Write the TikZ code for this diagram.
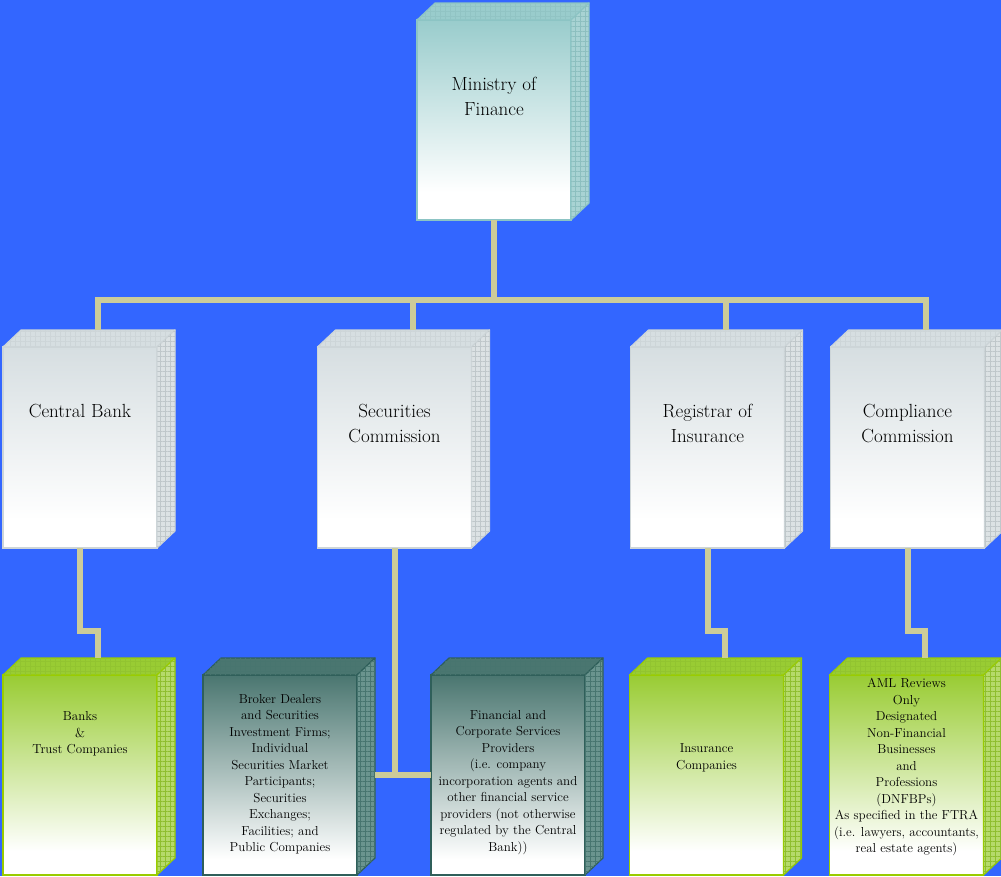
\documentclass[tikz,border=0pt]{standalone}
\usetikzlibrary{calc,patterns.meta}
\definecolor{bgblue}{HTML}{3366FF}
\definecolor{connc}{HTML}{CCCC99}
\definecolor{tealtop}{HTML}{99CCCC}
\definecolor{tealedge}{HTML}{8CC4C4}
\definecolor{tealside}{HTML}{A8D3D3}
\definecolor{tealpat}{HTML}{8CBFBF}
\definecolor{graytop}{HTML}{D6DEE1}
\definecolor{grayedge}{HTML}{CDD5D8}
\definecolor{grayside}{HTML}{DCE2E4}
\definecolor{graypat}{HTML}{BFC7CA}
\definecolor{greentop}{HTML}{99CC33}
\definecolor{greenedge}{HTML}{99CC00}
\definecolor{greenside}{HTML}{B5DA6A}
\definecolor{greenpat}{HTML}{8EBE2E}
\definecolor{darktop}{HTML}{4A7670}
\definecolor{darkedge}{HTML}{2F5F5A}
\definecolor{darkside}{HTML}{6A948E}
\definecolor{darkpat}{HTML}{47756F}
\pgfdeclareverticalshading{tealshade}{100bp}{color(0bp)=(white); color(32bp)=(white); color(75bp)=(tealtop); color(100bp)=(tealtop)}
\pgfdeclareverticalshading{grayshade}{100bp}{color(0bp)=(white); color(32bp)=(white); color(75bp)=(graytop); color(100bp)=(graytop)}
\pgfdeclareverticalshading{greenshade}{100bp}{color(0bp)=(white); color(31bp)=(white); color(75bp)=(greentop); color(100bp)=(greentop)}
\pgfdeclareverticalshading{darkshade}{100bp}{color(0bp)=(white); color(29bp)=(white); color(75bp)=(darktop); color(100bp)=(darktop)}
\newcommand\mkcube[5]{%
  \node[front,#3] (#1) at #2 {};
  \filldraw[face,#4] (#1.north west) -- ++(18,-17) -- ($(#1.north east)+(18,-17)$) -- (#1.north east) -- cycle;
  \filldraw[face,#5] (#1.north east) -- ++(18,-17) -- ($(#1.south east)+(18,-17)$) -- (#1.south east) -- cycle;
  \coordinate (#1-back) at ($(#1.north)+(18,-17)$);
}
\begin{document}
\begin{tikzpicture}[x=1pt,y=-1pt,
  front/.style={rectangle,minimum width=154pt,inner sep=0pt,outer sep=0pt,line width=1.6pt},
  face/.style={line width=1.2pt,line join=round},
  tealfront/.style={minimum height=200pt,shading=tealshade,draw=tealedge},
  tealtopf/.style={fill=tealtop,draw=tealedge,postaction={pattern={Hatch[distance=5pt,line width=0.4pt]},pattern color=tealpat!60!tealtop}},
  tealface/.style={fill=tealside,draw=tealedge,postaction={pattern={Hatch[distance=5pt,line width=0.5pt]},pattern color=tealpat}},
  grayfront/.style={minimum height=201pt,shading=grayshade,draw=grayedge},
  graytopf/.style={fill=graytop,draw=grayedge,postaction={pattern={Hatch[distance=5pt,line width=0.4pt]},pattern color=graypat!40!graytop}},
  grayface/.style={fill=grayside,draw=grayedge,postaction={pattern={Hatch[distance=5pt,line width=0.5pt]},pattern color=graypat}},
  greenfront/.style={minimum height=200pt,shading=greenshade,draw=greenedge},
  greentopf/.style={fill=greentop,draw=greenedge,postaction={pattern={Hatch[distance=5pt,line width=0.4pt]},pattern color=greenpat!60!greentop}},
  greenface/.style={fill=greenside,draw=greenedge,postaction={pattern={Hatch[distance=5pt,line width=0.5pt]},pattern color=greenpat}},
  darkfront/.style={minimum height=200pt,shading=darkshade,draw=darkedge},
  darktopf/.style={fill=darktop,draw=darkedge,postaction={pattern={Hatch[distance=5pt,line width=0.4pt]},pattern color=darkpat!60!darktop}},
  darkface/.style={fill=darkside,draw=darkedge,postaction={pattern={Hatch[distance=5pt,line width=0.5pt]},pattern color=darkpat}},
  bigtext/.style={align=center,font=\fontsize{19}{25}\selectfont,text=black},
  smalltext/.style={align=center,font=\fontsize{13}{16.5}\selectfont,text=black},
  conn/.style={draw=connc,line width=6pt,line join=miter}]
\useasboundingbox (0,0) rectangle (1001,876);
\fill[bgblue] (0,0) rectangle (1001,876);
\coordinate (bus) at (0,300);
\coordinate (jog) at (0,631);
% boxes
\mkcube{mof}{(494,120)}{tealfront}{tealtopf}{tealface}
\mkcube{cb}{(80,447.5)}{grayfront}{graytopf}{grayface}
\mkcube{sc}{(394.5,447.5)}{grayfront}{graytopf}{grayface}
\mkcube{ri}{(707.5,447.5)}{grayfront}{graytopf}{grayface}
\mkcube{cc}{(907.5,447.5)}{grayfront}{graytopf}{grayface}
\mkcube{bk}{(80,775)}{greenfront}{greentopf}{greenface}
\mkcube{bd}{(280,775)}{darkfront}{darktopf}{darkface}
\mkcube{fp}{(508,775)}{darkfront}{darktopf}{darkface}
\mkcube{ic}{(706.5,775)}{greenfront}{greentopf}{greenface}
\mkcube{aml}{(906.5,775)}{greenfront}{greentopf}{greenface}
% connectors
\draw[conn] (mof.south) -- (mof.south |- bus);
\draw[conn] (cb-back) -- (cb-back |- bus) -- (cc-back |- bus) -- (cc-back);
\draw[conn] (sc-back |- bus) -- (sc-back);
\draw[conn] (ri-back |- bus) -- (ri-back);
\draw[conn] (cb.south) -- (cb.south |- jog) -- (bk-back |- jog) -- (bk-back);
\draw[conn] (ri.south) -- (ri.south |- jog) -- (ic-back |- jog) -- (ic-back);
\draw[conn] (cc.south) -- (cc.south |- jog) -- (aml-back |- jog) -- (aml-back);
\draw[conn] (sc.south) -- (sc.south |- fp.west);
\coordinate (bd-side) at ($(bd.east)+(18,0)$);
\draw[conn] (bd-side) -- (fp.west);
% texts
\node[bigtext] (t-mof) at (494,96.5) {Ministry of\\Finance};
\node[bigtext] (t-cb) at (80,411) {Central Bank};
\node[bigtext] (t-sc) at (394.5,423.5) {Securities\\Commission};
\node[bigtext] (t-ri) at (707.5,423.5) {Registrar of\\Insurance};
\node[bigtext] (t-cc) at (907.5,423.5) {Compliance\\Commission};
\node[smalltext] (t-bk) at (80,734) {Banks\\\&\\Trust Companies};
\node[smalltext] (t-bd) at (280,774) {Broker Dealers\\and Securities\\Investment Firms;\\Individual\\Securities Market\\Participants;\\Securities\\Exchanges;\\Facilities; and\\Public Companies};
\node[smalltext] (t-fp) at (508,782.5) {Financial and\\Corporate Services\\Providers\\(i.e. company\\incorporation agents and\\other financial service\\providers (not otherwise\\regulated by the Central\\Bank))};
\node[smalltext] (t-ic) at (706.5,758) {Insurance\\Companies};
\node[smalltext] (t-aml) at (906.5,767) {AML Reviews\\Only\\Designated\\Non-Financial\\Businesses\\and\\Professions\\(DNFBPs)\\As specified in the FTRA\\(i.e. lawyers, accountants,\\real estate agents)};
\end{tikzpicture}
\end{document}
